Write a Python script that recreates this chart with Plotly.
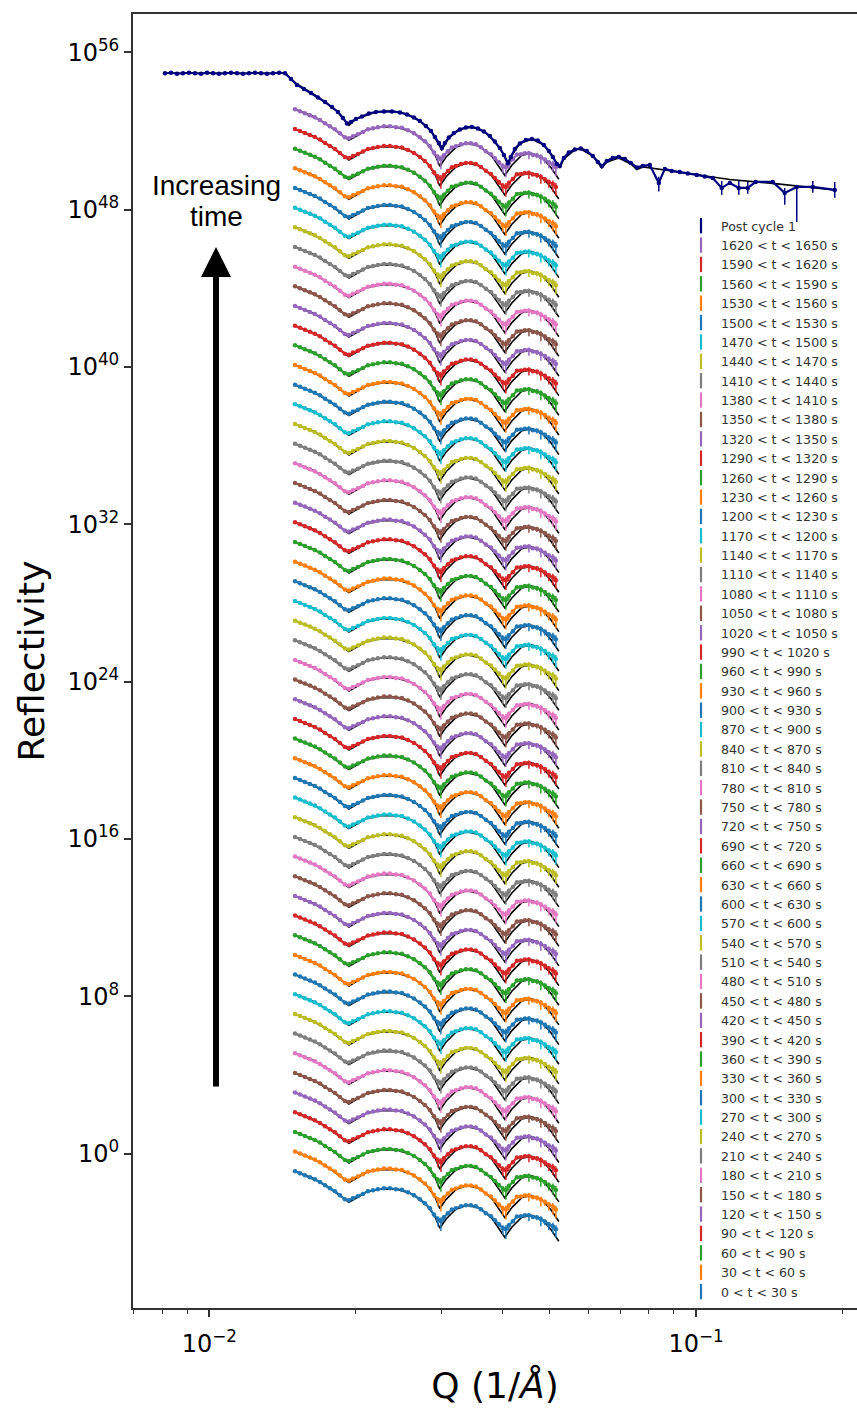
import plotly.graph_objects as go

# ---------------- data ----------------
# time-resolved curves: one shared measured profile, stacked by factors of 10
time_start = [0, 30, 60, 90, 120, 150, 180, 210, 240, 270, 300, 330, 360, 390, 420,
              450, 480, 510, 540, 570, 600, 630, 660, 690, 720, 750, 780, 810, 840,
              870, 900, 930, 960, 990, 1020, 1050, 1080, 1110, 1140, 1170, 1200,
              1230, 1260, 1290, 1320, 1350, 1380, 1410, 1440, 1470, 1500, 1530,
              1560, 1590, 1620]
time_labels = [f"{s} < t < {s + 30} s" for s in time_start]
offset_decades = list(range(len(time_start)))   # each curve shifted by x10

q_data = [0.01500, 0.01536, 0.01572, 0.01610, 0.01648, 0.01688, 0.01729, 0.01769,
          0.01812, 0.01855, 0.01899, 0.01936, 0.01973, 0.02020, 0.02069, 0.02118,
          0.02169, 0.02220, 0.02285, 0.02350, 0.02418, 0.02487, 0.02559, 0.02633,
          0.02708, 0.02773, 0.02839, 0.02894, 0.02949, 0.02991, 0.03034, 0.03092,
          0.03151, 0.03211, 0.03288, 0.03366, 0.03447, 0.03529, 0.03614, 0.03700,
          0.03789, 0.03861, 0.03935, 0.04010, 0.04067, 0.04125, 0.04204, 0.04285,
          0.04366, 0.04450, 0.04535, 0.04621, 0.04710, 0.04799, 0.04891, 0.04984,
          0.05079, 0.05152]
logR_data = [-0.900, -1.002, -1.103, -1.205, -1.307, -1.440, -1.612, -1.764,
             -1.917, -2.120, -2.323, -2.374, -2.272, -2.171, -2.050, -1.917,
             -1.866, -1.815, -1.764, -1.764, -1.815, -1.840, -1.967, -2.120,
             -2.323, -2.527, -2.781, -3.100, -3.340, -3.442, -3.238, -3.035,
             -2.840, -2.781, -2.679, -2.628, -2.628, -2.679, -2.832, -3.030,
             -3.187, -3.391, -3.594, -3.797, -3.848, -3.645, -3.442, -3.200,
             -3.187, -3.137, -3.137, -3.220, -3.238, -3.340, -3.450, -3.594,
             -3.696, -3.848]
err_up_dec = [0.05] * 27 + [0.08, 0.15, 0.20, 0.10, 0.06] + [0.05] * 10 + \
             [0.08, 0.15, 0.20, 0.12, 0.06, 0.05, 0.05, 0.05, 0.12, 0.05, 0.08, 0.15, 0.10, 0.12, 0.18, 0.20]
err_dn_dec = [0.05] * 27 + [0.15, 0.35, 0.50, 0.20, 0.08] + [0.05] * 10 + \
             [0.15, 0.35, 0.50, 0.25, 0.08, 0.05, 0.06, 0.05, 0.30, 0.06, 0.15, 0.35, 0.20, 0.30, 0.40, 0.45]

q_fit = [0.01500, 0.01633, 0.01769, 0.01881, 0.01936, 0.02001, 0.02098, 0.02241,
         0.02428, 0.02620, 0.02799, 0.02906, 0.02976, 0.03062, 0.03210, 0.03382,
         0.03596, 0.03806, 0.03952, 0.04047, 0.04183, 0.04385, 0.04598, 0.04821,
         0.05030, 0.05225]
logR_fit = [-0.900, -1.256, -1.764, -2.222, -2.476, -2.272, -1.967, -1.815,
            -1.815, -2.069, -2.628, -3.187, -3.797, -3.340, -2.832, -2.628,
            -2.781, -3.289, -3.848, -4.255, -3.747, -3.238, -3.137, -3.340,
            -3.848, -4.458]

# post cycle 1 (absolute values)
q_post = [0.008110, 0.008344, 0.008583, 0.008831, 0.009085, 0.009347, 0.009615,
          0.009892, 0.01018, 0.01047, 0.01077, 0.01108, 0.01140, 0.01173, 0.01207,
          0.01241, 0.01277, 0.01314, 0.01352, 0.01391, 0.01431, 0.01472, 0.01514,
          0.01565, 0.01618, 0.01672, 0.01729, 0.01787, 0.01838, 0.01882, 0.01918,
          0.01955, 0.02001, 0.02059, 0.02128, 0.02200, 0.02285, 0.02373, 0.02464,
          0.02547, 0.02633, 0.02708, 0.02786, 0.02853, 0.02907, 0.02963, 0.03005,
          0.03048, 0.03106, 0.03181, 0.03272, 0.03366, 0.03463, 0.03563, 0.03665,
          0.03771, 0.03861, 0.03953, 0.04029, 0.04106, 0.04164, 0.04244, 0.04345,
          0.04471, 0.04599, 0.04731, 0.04868, 0.04984, 0.05079, 0.05176, 0.05250,
          0.05350, 0.05478, 0.05636, 0.05798, 0.05965, 0.06137, 0.06283, 0.06403,
          0.06556, 0.06745, 0.06939, 0.07139, 0.07344, 0.07556, 0.07773, 0.08034,
          0.08384, 0.08625, 0.08915, 0.09259, 0.09615, 0.1003, 0.1042, 0.1082,
          0.1129, 0.1173, 0.1224, 0.1277, 0.1326, 0.1437, 0.1521, 0.1610, 0.1737,
          0.1927]
logR_post = [54.934, 54.959, 54.908, 54.934, 54.959, 54.934, 54.908, 54.959,
             54.934, 54.908, 54.934, 54.959, 54.934, 54.908, 54.934, 54.959,
             54.934, 54.908, 54.934, 54.959, 54.934, 54.643, 54.338, 54.135,
             53.932, 53.703, 53.474, 53.220, 52.966, 52.661, 52.382, 52.458,
             52.610, 52.737, 52.890, 52.966, 52.991, 52.991, 52.941, 52.839,
             52.687, 52.509, 52.254, 52.000, 51.695, 51.390, 51.136, 51.390,
             51.670, 51.898, 52.077, 52.178, 52.204, 52.127, 51.975, 51.746,
             51.467, 51.136, 50.780, 50.374, 50.679, 51.085, 51.365, 51.543,
             51.594, 51.517, 51.289, 50.984, 50.679, 50.323, 50.221, 50.628,
             50.907, 51.060, 51.111, 50.984, 50.729, 50.424, 50.221, 50.475,
             50.628, 50.679, 50.577, 50.374, 50.145, 50.221, 50.272, 49.357,
             50.069, 49.967, 49.916, 49.840, 49.763, 49.687, 49.611, 49.103,
             49.357, 49.103, 49.103, 49.408, 49.408, 48.849, 49.154, 49.154,
             49.001]
post_err_up = [0.04] * 87 + [0.32, 0.05, 0.05, 0.05, 0.05, 0.05, 0.05, 0.06,
                             0.35, 0.10, 0.35, 0.30, 0.10, 0.10, 0.25, 0.10, 0.30, 0.40]
post_err_dn = [0.04] * 87 + [0.44, 0.05, 0.05, 0.05, 0.05, 0.05, 0.05, 0.06,
                             0.35, 0.10, 0.35, 0.30, 0.10, 0.10, 0.60, 1.78, 0.30, 0.40]

q_post_fit = [0.00811, 0.01431, 0.01514, 0.01672, 0.01838, 0.01936, 0.02001,
              0.02200, 0.02373, 0.02547, 0.02708, 0.02853, 0.03005, 0.03106,
              0.03272, 0.03463, 0.03665, 0.03861, 0.04029, 0.04106, 0.04164,
              0.04345, 0.04599, 0.04868, 0.05079, 0.05250, 0.05350, 0.05636,
              0.05798, 0.06137, 0.06403, 0.06556, 0.06939, 0.07344, 0.07556,
              0.07773, 0.08625, 0.1003, 0.1173, 0.1437, 0.1737, 0.1927]
logR_post_fit = [54.934, 54.934, 54.389, 53.728, 52.966, 52.280, 52.610, 52.966,
                 53.017, 52.864, 52.509, 52.000, 51.034, 51.644, 52.077, 52.204,
                 51.975, 51.467, 50.780, 50.272, 50.679, 51.365, 51.594, 51.289,
                 50.679, 50.120, 50.577, 51.034, 51.085, 50.729, 50.120, 50.424,
                 50.628, 50.323, 50.043, 50.170, 50.018, 49.763, 49.535, 49.332,
                 49.129, 49.001]

x_tick_vals = [0.01, 0.1]
x_tick_text = ["10<sup>\u22122</sup>", "10<sup>\u22121</sup>"]
x_minor_vals = [0.007, 0.008, 0.009, 0.02, 0.03, 0.04, 0.05, 0.06, 0.07, 0.08, 0.09, 0.2]
y_tick_exp = [0, 8, 16, 24, 32, 40, 48, 56]

tab10 = ["#1f77b4", "#ff7f0e", "#2ca02c", "#d62728", "#9467bd",
         "#8c564b", "#e377c2", "#7f7f7f", "#bcbd22", "#17becf"]
post_color = "#00007f"

# ---------------- figure ----------------
W, H = 857, 1414
ML, MR, MT, MB = 133, 0, 14, 106
PW, PH = W - ML - MR, H - MT - MB


def px2paper(px, py):
    return (px - ML) / PW, (H - MB - py) / PH


def err_arrays(vals, up, dn):
    return ([v * (10 ** u - 1) for v, u in zip(vals, up)],
            [v * (1 - 10 ** (-d)) for v, d in zip(vals, dn)])


fig = go.Figure()

# time-resolved curves
for k, off in enumerate(offset_decades):
    c = tab10[k % 10]
    yfit = [10 ** (v + off) for v in logR_fit]
    fig.add_trace(go.Scatter(x=q_fit, y=yfit, mode="lines",
                             line=dict(color="black", width=1.6),
                             showlegend=False, hoverinfo="skip"))
    yd = [10 ** (v + off) for v in logR_data]
    eu, ed = err_arrays(yd, err_up_dec, err_dn_dec)
    fig.add_trace(go.Scatter(x=q_data, y=yd, mode="lines+markers",
                             line=dict(color=c, width=2.2),
                             marker=dict(color=c, size=4.5),
                             error_y=dict(type="data", symmetric=False, array=eu,
                                          arrayminus=ed, color=c, thickness=1.5, width=0),
                             legendgroup=time_labels[k], showlegend=False,
                             name=time_labels[k]))

# post cycle 1
yp_fit = [10 ** v for v in logR_post_fit]
fig.add_trace(go.Scatter(x=q_post_fit, y=yp_fit, mode="lines",
                         line=dict(color="black", width=1.6),
                         showlegend=False, hoverinfo="skip"))
yp = [10 ** v for v in logR_post]
eu, ed = err_arrays(yp, post_err_up, post_err_dn)
fig.add_trace(go.Scatter(x=q_post, y=yp, mode="lines+markers",
                         line=dict(color=post_color, width=2.2),
                         marker=dict(color=post_color, size=4.5),
                         error_y=dict(type="data", symmetric=False, array=eu,
                                      arrayminus=ed, color=post_color, thickness=1.5, width=0),
                         legendgroup="Post cycle 1", showlegend=False, name="Post cycle 1"))

# legend entries (error-bar style icons), top to bottom
legend_items = [("Post cycle 1", post_color)] + \
    [(time_labels[k], tab10[k % 10]) for k in reversed(range(len(time_labels)))]
for name, c in legend_items:
    fig.add_trace(go.Scatter(x=[None], y=[None], mode="markers", name=name,
                             legendgroup=name,
                             marker=dict(symbol="line-ns", size=11, color=c,
                                         line=dict(color=c, width=2.2))))

ax_col = "#333333"
fig.update_layout(
    width=W, height=H,
    margin=dict(l=ML, r=MR, t=MT, b=MB),
    paper_bgcolor="white", plot_bgcolor="white",
    font=dict(family="DejaVu Sans", color="black"),
    showlegend=True,
    legend=dict(x=px2paper(681, 0)[0], xanchor="left",
                y=px2paper(0, 211)[1], yanchor="top",
                bgcolor="rgba(0,0,0,0)", borderwidth=0,
                font=dict(family="DejaVu Sans", size=12.6, color="#333333"),
                traceorder="normal", itemwidth=30),
    xaxis=dict(type="log", range=[-2.1567, -0.6694],
               tickmode="array", tickvals=x_tick_vals, ticktext=x_tick_text,
               ticks="outside", ticklen=7, tickwidth=1.5, tickcolor=ax_col,
               ticklabelstandoff=6,
               minor=dict(tickmode="array", tickvals=x_minor_vals, ticks="outside",
                          ticklen=4, tickwidth=1.2, tickcolor=ax_col),
               showline=True, linecolor=ax_col, linewidth=1.8, mirror=True,
               showgrid=False, zeroline=False,
               tickfont=dict(family="DejaVu Sans", size=24, color="black"),
               title=dict(text="Q (1/<i>Å</i>)", standoff=16,
                          font=dict(family="DejaVu Sans", size=36, color="black"))),
    yaxis=dict(type="log", range=[-7.853, 57.947],
               tickmode="array", tickvals=[10.0 ** e for e in y_tick_exp],
               ticktext=[f"10<sup>{e}</sup>" for e in y_tick_exp],
               ticks="outside", ticklen=7, tickwidth=1.5, tickcolor=ax_col,
               showline=True, linecolor=ax_col, linewidth=1.8, mirror=False,
               showgrid=False, zeroline=False,
               tickfont=dict(family="DejaVu Sans", size=24, color="black"),
               title=dict(text="Reflectivity", standoff=12,
                          font=dict(family="DejaVu Sans", size=36, color="black"))),
)

# "Increasing time" arrow and text
tip = px2paper(216, 247)
fig.add_annotation(xref="paper", yref="paper", x=tip[0], y=tip[1], text="",
                   showarrow=True, axref="pixel", ayref="pixel", ax=0, ay=1088 - 247,
                   arrowhead=2, arrowsize=1, arrowwidth=6, arrowcolor="black", standoff=0)
for txt, py in (("Increasing", 185), ("time", 217)):
    p = px2paper(216, py)
    fig.add_annotation(xref="paper", yref="paper", x=p[0], y=p[1], text=txt,
                       showarrow=False, xanchor="center", yanchor="middle",
                       font=dict(family="Liberation Sans", size=28, color="black"))

fig.write_html("out.html")
